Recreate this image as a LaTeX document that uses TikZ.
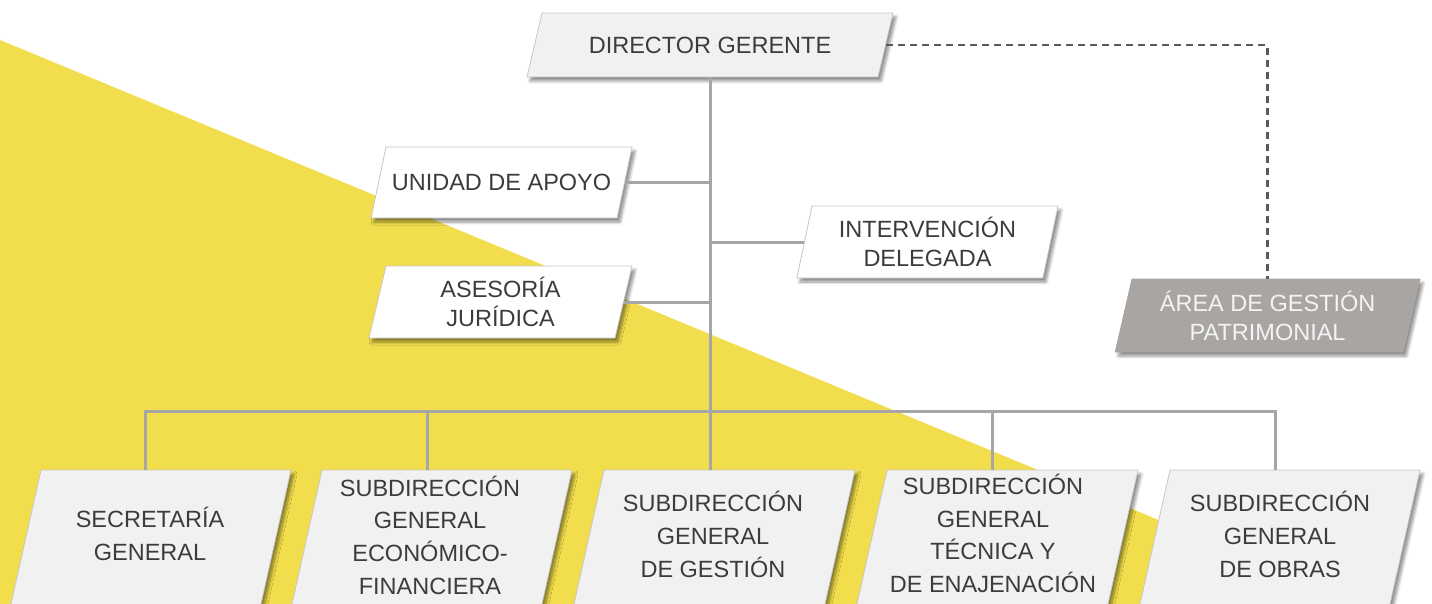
\documentclass[tikz,border=0pt]{standalone}
\usepackage{fontspec}
\setmainfont{Liberation Sans}
\usetikzlibrary{shadows.blur}
\definecolor{ylw}{HTML}{F2DE4C}
\definecolor{boxfill}{HTML}{F1F1F1}
\definecolor{boxline}{HTML}{C6C6C6}
\definecolor{connc}{HTML}{A6A6A6}
\definecolor{dashc}{HTML}{5A5A5A}
\definecolor{txtc}{HTML}{3C3C3C}
\definecolor{agfill}{HTML}{A8A5A3}
\definecolor{agtxt}{HTML}{F4F4F4}
\newcommand\paraBox[6]{%
  \path[#1] (#2,#3) -- ++(#4,0) -- ({#2+#4-(#6)*(#5-#3)},#5) -- ({#2-(#6)*(#5-#3)},#5) -- cycle;}
\begin{document}
\begin{tikzpicture}[x=1pt,y=-1pt,
  shp/.style={draw=boxline,line width=0.8pt,fill=boxfill,
    blur shadow={shadow xshift=3pt,shadow yshift=-4pt,shadow blur radius=3pt,shadow blur steps=6,shadow opacity=45}},
  shpw/.style={shp,fill=white},
  shpg/.style={shp,draw=agfill,fill=agfill},
  lbl/.style={shape=rectangle,inner sep=0pt,align=center,text=txtc,
    font=\fontsize{23.5}{29}\selectfont},
  lblb/.style={lbl,font=\fontsize{23.5}{32.7}\selectfont},
  conn/.style={draw=connc,line width=3pt},
  dashln/.style={draw=dashc,line width=2.5pt,dash pattern=on 7pt off 5pt}]
\clip (0,0) rectangle (1432,604);
% yellow triangle
\fill[ylw] (0,40) -- (1400,620) -- (0,620) -- cycle;
% box shapes
\paraBox{shp}{542}{13}{351}{77}{0.234}
\paraBox{shpw}{386}{147}{246}{218}{0.21}
\paraBox{shpw}{386}{266}{246}{338}{0.236}
\paraBox{shpw}{812}{206}{246}{278}{0.21}
\paraBox{shpg}{1132}{279}{288}{352}{0.23}
\paraBox{shp}{41}{470}{250}{640}{0.224}
\paraBox{shp}{322}{470}{250}{640}{0.224}
\paraBox{shp}{604}{470}{251}{640}{0.224}
\paraBox{shp}{887}{470}{251}{640}{0.224}
\paraBox{shp}{1170}{470}{250}{640}{0.224}
% labels
\node[lbl,minimum width=352pt,minimum height=64pt] (dir) at (710,45) {DIRECTOR GERENTE};
\node[lbl,minimum width=246pt,minimum height=71pt] (ua) at (501.5,182.5) {UNIDAD DE APOYO};
\node[lbl,minimum width=246pt,minimum height=72pt] (aj) at (500.5,302) {ASESORÍA\\JURÍDICA};
\node[lbl,minimum width=246pt,minimum height=72pt] (iv) at (927.5,242) {INTERVENCIÓN\\DELEGADA};
\node[lbl,text=agtxt,minimum width=288pt,minimum height=73pt] (ag) at (1267.6,315.5) {ÁREA DE GESTIÓN\\PATRIMONIAL};
\node[lblb] (b1) at (150,534) {SECRETARÍA\\GENERAL};
\node[lblb] (b2) at (430,535) {SUBDIRECCIÓN\\GENERAL\\ECONÓMICO-\\FINANCIERA};
\node[lblb] (b3) at (713,534.5) {SUBDIRECCIÓN\\GENERAL\\DE GESTIÓN};
\node[lblb] (b4) at (993,533.5) {SUBDIRECCIÓN\\GENERAL\\TÉCNICA Y\\DE ENAJENACIÓN};
\node[lblb] (b5) at (1280,534.5) {SUBDIRECCIÓN\\GENERAL\\DE OBRAS};
% connector points
\coordinate (bus) at (709,411);
\coordinate (t1) at (145,470);
\coordinate (t2) at (427,470);
\coordinate (t3) at (709,470);
\coordinate (t4) at (992,470);
\coordinate (t5) at (1275,470);
% connectors
\draw[conn] (dir.south) -- (dir.south |- t3);
\draw[conn] (t1) -- (t1 |- bus) -- (t5 |- bus) -- (t5);
\draw[conn] (t2) -- (t2 |- bus);
\draw[conn] (t4) -- (t4 |- bus);
\draw[conn] (ua.east) -- (ua.east -| dir.south);
\draw[conn] (aj.east) -- (aj.east -| dir.south);
\draw[conn] (iv.west) -- (iv.west -| dir.south);
\draw[dashln] (dir.east) -- (dir.east -| ag.north) -- (ag.north);
\end{tikzpicture}
\end{document}
